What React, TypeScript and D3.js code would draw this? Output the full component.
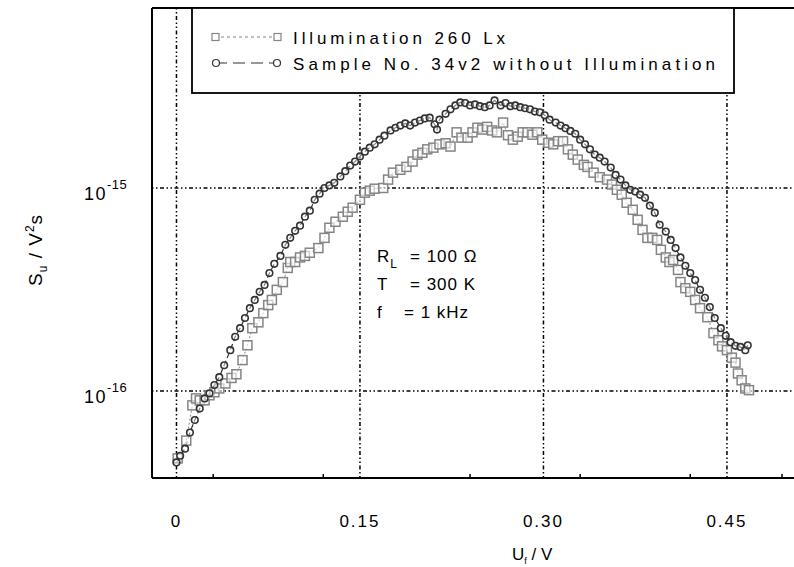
import React from "react";
import * as d3 from "d3";

const W = 794;
const H = 567;

// values: U_f in V, S_u in units of 1e-16 V^2 s
const illumPoints: [number, number][] = [
  [0.001, 0.466], [0.008, 0.57], [0.013, 0.85], [0.016, 0.92], [0.019, 0.9], [0.023, 0.9],
  [0.027, 0.953], [0.031, 0.986], [0.035, 1.03], [0.04, 1.09], [0.045, 1.16], [0.049, 1.21],
  [0.054, 1.42], [0.058, 1.68], [0.062, 2.04], [0.067, 2.18], [0.071, 2.42], [0.075, 2.65],
  [0.078, 2.81], [0.082, 3.15], [0.087, 3.44], [0.091, 4.04], [0.093, 4.32], [0.097, 4.32],
  [0.101, 4.55], [0.105, 4.63], [0.109, 4.8], [0.116, 5.06], [0.121, 5.68], [0.125, 6.37],
  [0.13, 6.82], [0.136, 7.22], [0.14, 7.64], [0.144, 8.0], [0.15, 8.75], [0.154, 9.48],
  [0.158, 9.7], [0.162, 9.92], [0.169, 10.0], [0.173, 11.0], [0.177, 11.9], [0.183, 12.3],
  [0.188, 12.7], [0.193, 13.5], [0.197, 14.6], [0.201, 14.9], [0.205, 15.5], [0.21, 15.8],
  [0.215, 16.4], [0.22, 16.6], [0.224, 16.0], [0.229, 18.8], [0.233, 17.7], [0.238, 17.7],
  [0.242, 18.8], [0.246, 19.8], [0.25, 19.4], [0.254, 20.0], [0.258, 19.2], [0.262, 18.8],
  [0.267, 21.0], [0.271, 18.2], [0.275, 17.3], [0.279, 17.9], [0.283, 18.8], [0.287, 18.8],
  [0.291, 18.3], [0.295, 18.8], [0.299, 17.3], [0.304, 16.7], [0.308, 16.4], [0.312, 17.0],
  [0.316, 17.0], [0.32, 15.5], [0.324, 14.6], [0.328, 13.8], [0.333, 13.0], [0.336, 12.7],
  [0.341, 11.9], [0.346, 11.3], [0.352, 11.0], [0.356, 10.4], [0.36, 9.8], [0.364, 9.27],
  [0.368, 8.46], [0.373, 7.81], [0.377, 6.97], [0.381, 6.22], [0.385, 5.68], [0.389, 5.68],
  [0.393, 5.55], [0.396, 4.96], [0.4, 4.55], [0.403, 4.32], [0.406, 4.42], [0.41, 3.95],
  [0.412, 3.44], [0.416, 3.21], [0.42, 3.08], [0.424, 2.81], [0.428, 2.56], [0.434, 2.31],
  [0.439, 1.93], [0.443, 1.78], [0.446, 1.66], [0.45, 1.59], [0.454, 1.46], [0.457, 1.38],
  [0.459, 1.22], [0.462, 1.13], [0.465, 1.03], [0.468, 1.01],
];

const darkPoints: [number, number][] = [
  [0.0, 0.445], [0.003, 0.48], [0.007, 0.52], [0.011, 0.625], [0.015, 0.72], [0.019, 0.82],
  [0.023, 0.92], [0.027, 0.975], [0.031, 1.07], [0.035, 1.17], [0.039, 1.34], [0.044, 1.59],
  [0.048, 1.85], [0.052, 2.04], [0.056, 2.29], [0.06, 2.56], [0.064, 2.81], [0.068, 3.08],
  [0.072, 3.33], [0.076, 3.81], [0.08, 4.23], [0.085, 4.63], [0.089, 5.25], [0.093, 5.68],
  [0.097, 6.15], [0.101, 6.52], [0.105, 7.22], [0.109, 7.73], [0.113, 8.75], [0.117, 9.38],
  [0.121, 10.0], [0.125, 10.3], [0.129, 10.6], [0.134, 11.4], [0.138, 12.1], [0.142, 12.9],
  [0.146, 13.5], [0.15, 14.3], [0.154, 15.1], [0.158, 15.8], [0.162, 16.4], [0.166, 17.3],
  [0.17, 18.1], [0.175, 19.2], [0.179, 19.8], [0.183, 20.3], [0.187, 20.8], [0.191, 20.3],
  [0.195, 21.0], [0.199, 21.5], [0.203, 22.0], [0.207, 22.2], [0.211, 20.6], [0.213, 19.4],
  [0.215, 21.7], [0.22, 23.2], [0.224, 24.4], [0.228, 25.5], [0.232, 26.4], [0.236, 26.2],
  [0.24, 25.5], [0.244, 25.8], [0.248, 25.3], [0.252, 25.0], [0.256, 25.5], [0.26, 27.0],
  [0.265, 25.5], [0.269, 26.2], [0.273, 25.3], [0.277, 25.5], [0.281, 25.0], [0.285, 24.7],
  [0.289, 24.4], [0.293, 23.8], [0.297, 23.6], [0.301, 22.8], [0.305, 21.7], [0.31, 21.0],
  [0.314, 20.3], [0.318, 19.7], [0.322, 19.1], [0.326, 18.5], [0.33, 17.3], [0.334, 16.4],
  [0.338, 15.5], [0.342, 14.6], [0.346, 14.1], [0.35, 13.5], [0.355, 12.6], [0.359, 11.6],
  [0.363, 11.0], [0.367, 10.3], [0.371, 9.8], [0.375, 9.6], [0.379, 9.27], [0.383, 8.95],
  [0.387, 8.18], [0.391, 7.56], [0.395, 6.59], [0.4, 6.1], [0.404, 5.55], [0.408, 5.06],
  [0.412, 4.55], [0.416, 4.14], [0.42, 3.81], [0.424, 3.52], [0.428, 3.15], [0.432, 2.88],
  [0.436, 2.59], [0.44, 2.29], [0.445, 2.04], [0.449, 1.87], [0.453, 1.74], [0.457, 1.67],
  [0.461, 1.65], [0.465, 1.59], [0.467, 1.68],
];

const xMajorTicks = [0, 0.15, 0.3, 0.45];
const xMajorLabels = ["0", "0.15", "0.30", "0.45"];
const xMinorTicks = [0.03, 0.12, 0.24, 0.33, 0.42, 0.495];
const yMajorTicks = [1, 10];
const yTickExponents = ["-16", "-15"];
const legendLabels = ["Illumination 260 Lx", "Sample No. 34v2 without Illumination"];

const FONT = "'Liberation Sans', Arial, sans-serif";
const SQ_COLOR = "#858585";
const CI_COLOR = "#333333";
const GRID_DASH = "1.5,2.5,1.5,2.5,4,2.5";

export default function App() {
  const left = 152;
  const top = 8;
  const bottom = 478;
  const x = d3.scaleLinear().domain([-0.02, 0.52]).range([left, left + 0.54 * 1223.3]);
  const y = d3.scaleLog().domain([0.373, 77]).range([bottom, top]);
  const right = x(0.52);

  const line = d3
    .line<[number, number]>()
    .x((d) => x(d[0]))
    .y((d) => y(d[1]));

  const sq = 9;
  const r = 3.3;

  return (
    <svg
      width={W}
      height={H}
      style={{ position: "absolute", left: 0, top: 0, background: "#fff" }}
      fontFamily={FONT}
    >
      <rect x={0} y={0} width={W} height={H} fill="#fff" />
      {/* grid */}
      {xMajorTicks.map((t) => (
        <line key={"gx" + t} x1={x(t)} x2={x(t)} y1={top} y2={bottom} stroke="#000" strokeWidth={1.5} strokeDasharray={GRID_DASH} />
      ))}
      {yMajorTicks.map((t) => (
        <line key={"gy" + t} x1={left} x2={right} y1={y(t)} y2={y(t)} stroke="#000" strokeWidth={1.5} strokeDasharray={GRID_DASH} />
      ))}
      {/* minor ticks */}
      {xMinorTicks.map((t) => (
        <line key={"mt" + t} x1={x(t)} x2={x(t)} y1={bottom} y2={bottom - 4} stroke="#000" strokeWidth={1.5} />
      ))}
      {/* series lines */}
      <path d={line(illumPoints) || ""} fill="none" stroke={SQ_COLOR} strokeWidth={1} strokeDasharray="2,2" />
      <path d={line(darkPoints) || ""} fill="none" stroke={CI_COLOR} strokeWidth={1.2} strokeDasharray="6,3" />
      {/* markers */}
      {illumPoints.map((d, i) => (
        <rect key={"s" + i} x={x(d[0]) - sq / 2} y={y(d[1]) - sq / 2} width={sq} height={sq} fill="#fff" fillOpacity={0.6} stroke={SQ_COLOR} strokeWidth={1.5} />
      ))}
      {darkPoints.map((d, i) => (
        <circle key={"c" + i} cx={x(d[0])} cy={y(d[1])} r={r} fill="#fff" fillOpacity={0.4} stroke={CI_COLOR} strokeWidth={1.6} />
      ))}
      {/* frame */}
      <line x1={left} x2={left} y1={top} y2={bottom} stroke="#000" strokeWidth={2} />
      <line x1={left} x2={right} y1={bottom} y2={bottom} stroke="#000" strokeWidth={2} />
      <line x1={left} x2={right} y1={top} y2={top} stroke="#000" strokeWidth={2} />
      <line x1={right} x2={right} y1={top} y2={bottom} stroke="#000" strokeWidth={2} />
      {/* legend */}
      <rect x={192} y={top} width={542} height={85} fill="#fff" stroke="#000" strokeWidth={1.8} />
      <line x1={215} x2={277} y1={37} y2={37} stroke={SQ_COLOR} strokeWidth={1.2} strokeDasharray="3,3" />
      <rect x={212} y={33.5} width={7} height={7} fill="#fff" stroke={SQ_COLOR} strokeWidth={1.2} />
      <rect x={274} y={33.5} width={7} height={7} fill="#fff" stroke={SQ_COLOR} strokeWidth={1.2} />
      <line x1={215} x2={277} y1={63} y2={63} stroke={CI_COLOR} strokeWidth={1.2} strokeDasharray="12,6" />
      <circle cx={216} cy={63} r={3.5} fill="#fff" stroke={CI_COLOR} strokeWidth={1.2} />
      <circle cx={277} cy={63} r={3.5} fill="#fff" stroke={CI_COLOR} strokeWidth={1.2} />
      <text x={293} y={44} fontSize={17} textLength={212} lengthAdjust="spacing" fill="#000">{legendLabels[0]}</text>
      <text x={293} y={70} fontSize={17} textLength={422} lengthAdjust="spacing" fill="#000">{legendLabels[1]}</text>
      {/* x tick labels */}
      {xMajorTicks.map((t, i) => (
        <text key={"xl" + t} x={x(t)} y={527} fontSize={17} textAnchor="middle" letterSpacing={2} fill="#000">{xMajorLabels[i]}</text>
      ))}
      {/* y tick labels */}
      {yMajorTicks.map((t, i) => (
        <text key={"yl" + t} x={84} y={y(t) + 12} fontSize={18} fill="#000" letterSpacing={1.5}>
          10
          <tspan dy={-11} fontSize={13} letterSpacing={0.5}>{yTickExponents[i]}</tspan>
        </text>
      ))}
      {/* axis titles */}
      <text x={512} y={560} fontSize={17} fill="#000">
        U<tspan fontSize={9} dy={4}>f</tspan><tspan dy={-4}> / V</tspan>
      </text>
      <text transform="translate(42,286) rotate(-90)" fontSize={19} fill="#000" letterSpacing={1}>
        S<tspan fontSize={12} dy={5}>u</tspan><tspan dy={-5}> / V</tspan><tspan fontSize={12} dy={-8}>2</tspan><tspan dy={8}>s</tspan>
      </text>
      {/* annotation */}
      <g fontSize={17} fill="#000" letterSpacing={1}>
        <text x={377} y={262}>R<tspan fontSize={12} dy={6}>L</tspan></text>
        <text x={410} y={262}>= 100 Ω</text>
        <text x={377} y={290}>T</text>
        <text x={410} y={290}>= 300 K</text>
        <text x={377} y={318}>f</text>
        <text x={404} y={318}>= 1 kHz</text>
      </g>
    </svg>
  );
}
